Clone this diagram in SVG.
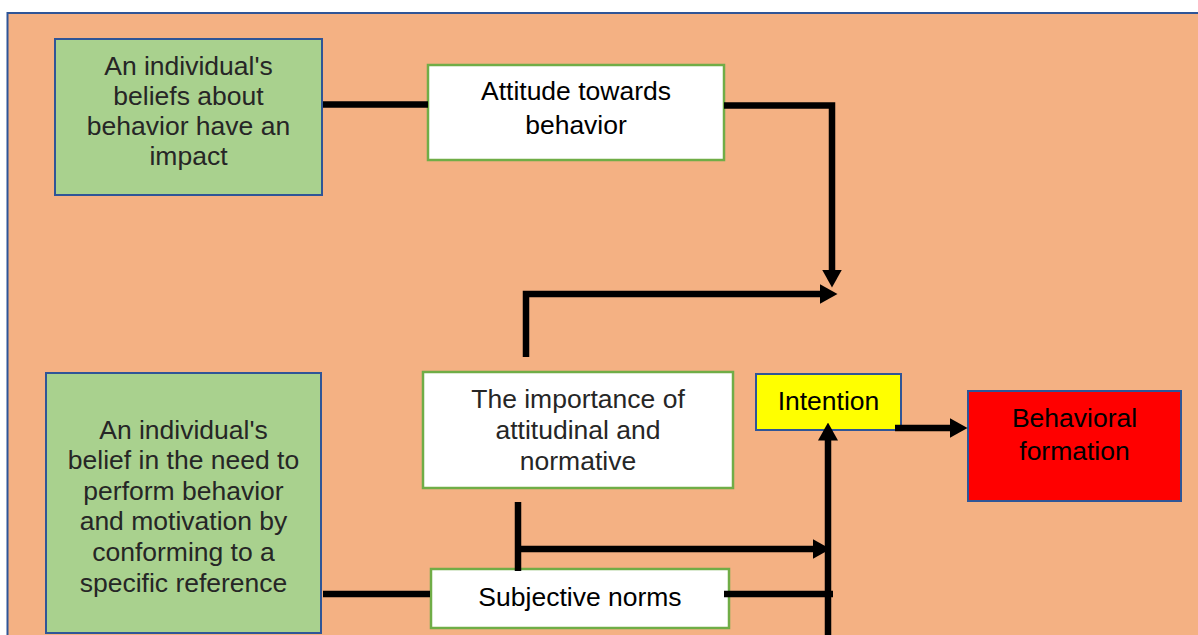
<svg xmlns="http://www.w3.org/2000/svg" width="1198" height="635" viewBox="0 0 1198 635">
<style>
.t{font-family:"Liberation Sans",Arial,sans-serif;font-size:26.5px;text-anchor:middle;fill:#262626}
.k{fill:#000}
.green{fill:#A9D18E;stroke:#2F5597;stroke-width:2}
.white{fill:#FFFFFF;stroke:#70AD47;stroke-width:2.5}
.ln{fill:none;stroke:#000;stroke-width:6.5;stroke-linejoin:miter}
.arr{marker-end:url(#ah)}
</style>
<defs>
<marker id="ah" viewBox="0 0 18 20" markerWidth="18" markerHeight="20" markerUnits="userSpaceOnUse" refX="0.5" refY="10" orient="auto">
<path d="M0,0 L18,10 L0,20 z" fill="#000"/>
</marker>
</defs>
<rect x="0" y="0" width="1198" height="635" fill="#FFFFFF"/>
<rect id="frame" x="7.5" y="13" width="1210" height="640" fill="#F4B183" stroke="#2F5597" stroke-width="2"/>

<g id="beliefs">
<rect class="green" x="55" y="39" width="267" height="156"/>
<text class="t" x="188.5" y="75">An individual's</text>
<text class="t" x="188.5" y="105">beliefs about</text>
<text class="t" x="188.5" y="135">behavior have an</text>
<text class="t" x="188.5" y="165">impact</text>
</g>

<g id="attitude">
<rect class="white" x="428" y="65" width="296" height="95"/>
<text class="t k" x="576" y="100">Attitude towards</text>
<text class="t k" x="576" y="134">behavior</text>
</g>

<g id="importance">
<rect class="white" x="423" y="372" width="310" height="116"/>
<text class="t" x="578" y="408">The importance of</text>
<text class="t" x="578" y="439">attitudinal and</text>
<text class="t" x="578" y="470">normative</text>
</g>

<g id="normbelief">
<rect class="green" x="46" y="373" width="275" height="260"/>
<text class="t" x="183.5" y="439">An individual's</text>
<text class="t" x="183.5" y="469">belief in the need to</text>
<text class="t" x="183.5" y="500">perform behavior</text>
<text class="t" x="183.5" y="530">and motivation by</text>
<text class="t" x="183.5" y="561">conforming to a</text>
<text class="t" x="183.5" y="592">specific reference</text>
</g>

<g id="subjective">
<rect class="white" x="431" y="569" width="298" height="59"/>
<text class="t k" x="580" y="606">Subjective norms</text>
</g>

<g id="intention">
<rect x="756" y="374" width="145" height="56" fill="#FFFF00" stroke="#2F5597" stroke-width="2"/>
<text class="t k" x="828.5" y="410">Intention</text>
</g>

<g id="behavioral">
<rect x="968" y="391" width="213" height="110" fill="#FF0000" stroke="#2F5597" stroke-width="2"/>
<text class="t k" x="1074.5" y="427">Behavioral</text>
<text class="t k" x="1074.5" y="460">formation</text>
</g>

<g id="connectors">
<path class="ln" d="M323,104.5 H428"/>
<path class="ln arr" d="M724,105.5 H832 V270"/>
<path class="ln arr" d="M526,357 V294 H820"/>
<path class="ln arr" d="M828,640 V440"/>
<path class="ln" d="M518,502 V571"/>
<path class="ln arr" d="M518,549 H813"/>
<path class="ln" d="M323,594 H430"/>
<path class="ln" d="M724,594 H833"/>
<path class="ln arr" d="M895,428 H950"/>
</g>
</svg>
